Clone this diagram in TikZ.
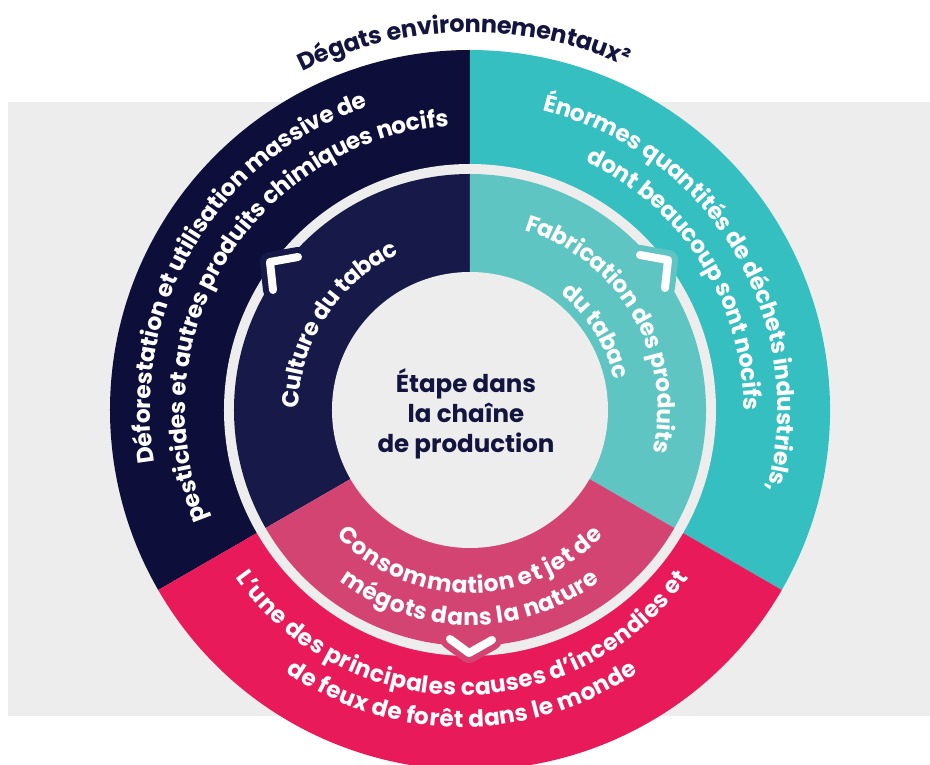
\documentclass[tikz,border=0pt]{standalone}
\usepackage{fontspec}
\setmainfont{Poppins}
\usetikzlibrary{decorations.text}
\definecolor{bgG}{HTML}{ECEDEC}
\definecolor{navyO}{HTML}{0D0E3A}
\definecolor{navyM}{HTML}{171A49}
\definecolor{tealO}{HTML}{36BFC1}
\definecolor{tealM}{HTML}{5FC5C3}
\definecolor{pinkO}{HTML}{E91A5A}
\definecolor{pinkM}{HTML}{D44473}
\definecolor{ink}{HTML}{13153F}
\newcommand\tf{\bfseries\fontsize{23.3}{23.3}\selectfont}
\newcommand\ttlf{\bfseries\fontsize{24}{24}\selectfont}
% #1 colour, #2 centre, #3 radius, #4 centre angle, #5 signed half span (+ = clockwise), #6 text
\newcommand\ringtext[6]{%
  \path[decorate,decoration={text along path,text align=center,text color=#1,raise=-7.2pt,text={|\tf|#6}},shift={(#2)}]
    ({#4+#5}:#3) arc[start angle={#4+#5},end angle={#4-#5},radius=#3];}
\tikzset{
  chevborder/.style={line width=20pt,line cap=round,line join=round},
  chevwhite/.style={draw=white,line width=8pt,line cap=round,line join=round}
}
\begin{document}
\begin{tikzpicture}[x=1pt,y=1pt]
\useasboundingbox (-470,-355) rectangle (460,410);
\fill[bgG] (-462,-306) rectangle (460,308);
% outer ring
\fill[navyO] (0,0) -- (90:360) arc[start angle=90,end angle=210,radius=360] -- cycle;
\fill[tealO] (0,0) -- (-30:360) arc[start angle=-30,end angle=90,radius=360] -- cycle;
\fill[pinkO] (0,0) -- (210:360) arc[start angle=210,end angle=330,radius=360] -- cycle;
\fill[bgG] (0,0) circle[radius=246];
% middle ring
\fill[navyM] (0,0) -- (90:236) arc[start angle=90,end angle=210,radius=236] -- cycle;
\fill[tealM] (0,0) -- (-30:236) arc[start angle=-30,end angle=90,radius=236] -- cycle;
\fill[pinkM] (0,0) -- (210:236) arc[start angle=210,end angle=330,radius=236] -- cycle;
\node[circle,fill=bgG,minimum size=276pt,inner sep=0pt] (core) at (0,0) {};
% chevrons
\coordinate (tla) at (-172,153); \coordinate (tlv) at (-200,148); \coordinate (tlb) at (-197,120);
\coordinate (tra) at (170,155);  \coordinate (trv) at (198,150);  \coordinate (trb) at (195,122);
\coordinate (bla) at (-20,-229); \coordinate (blv) at (-1,-243);  \coordinate (blb) at (22,-230);
\draw[chevborder,navyM] (tla) -- (tlv) -- (tlb);
\draw[chevwhite] (tla) -- (tlv) -- (tlb);
\draw[chevborder,tealM] (tra) -- (trv) -- (trb);
\draw[chevwhite] (tra) -- (trv) -- (trb);
\draw[chevborder,pinkM] (bla) -- (blv) -- (blb);
\draw[chevwhite] (bla) -- (blv) -- (blb);
% centre text
\node[text=ink,align=center,font=\bfseries\fontsize{24.5}{30}\selectfont] (ctext) at (-4,-4) {Étape dans\\la chaîne\\de production};
% title
\path[decorate,decoration={text along path,text align=center,text color=ink,raise=-7.4pt,text={|\ttlf|Dégats environnementaux²}}]
  (151:385) arc[start angle=151,end angle=31,radius=385];
% outer texts
\ringtext{white}{0,0}{327}{149}{80}{Déforestation et utilisation massive de}
\ringtext{white}{0,0}{292}{148.4}{80}{pesticides et autres produits chimiques nocifs}
\ringtext{white}{0,0}{315}{30.7}{80}{Énormes quantités de déchets industriels,}
\ringtext{white}{0,0}{281}{32.5}{80}{dont beaucoup sont nocifs}
\ringtext{white}{-8,-8}{270}{270}{-70}{L’une des principales causes d’incendies et}
\ringtext{white}{-8,-8}{302}{270}{-70}{de feux de forêt dans le monde}
% middle texts
\ringtext{white}{0,0}{178}{147}{80}{Culture du tabac}
\ringtext{white}{0,0}{195}{30.2}{80}{Fabrication des produits}
\ringtext{white}{0,0}{154}{32}{80}{du tabac}
\ringtext{white}{0,0}{176}{270}{-80}{Consommation et jet de}
\ringtext{white}{0,0}{208}{270}{-80}{mégots dans la nature}
\end{tikzpicture}
\end{document}
